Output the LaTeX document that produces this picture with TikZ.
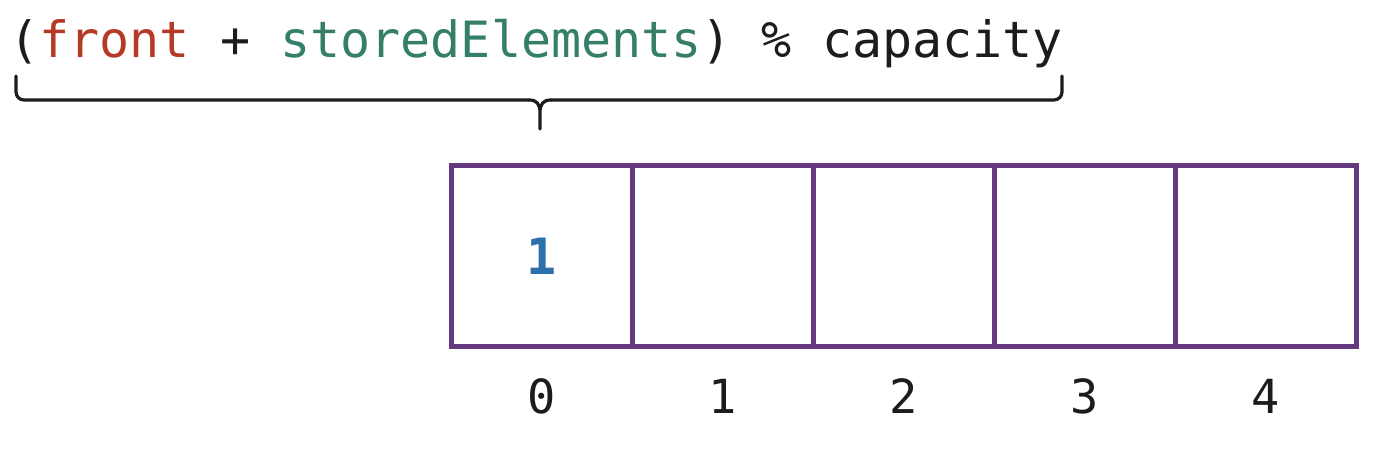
\documentclass[tikz,border=0pt]{standalone}
\usepackage{fontspec}
\setmonofont{DejaVu Sans Mono}
\usetikzlibrary{positioning}
\definecolor{frontred}{RGB}{180,58,38}
\definecolor{storedteal}{RGB}{52,126,106}
\definecolor{valblue}{RGB}{46,112,172}
\definecolor{cellpurple}{RGB}{101,56,127}
\definecolor{inkblack}{RGB}{28,28,28}
\tikzset{
cell/.style={shape=rectangle, minimum size=90.5pt, inner sep=0, outer sep=0, draw=cellpurple, line width=2.7pt, font=\ttfamily\bfseries\fontsize{25}{26}\selectfont, text=valblue}, idx/.style={inner sep=0, font=\ttfamily\fontsize{23.5}{24}\selectfont, text=inkblack}, expr/.style={inner sep=0, font=\ttfamily\fontsize{25}{26}\selectfont, text=inkblack}}

\begin{document}
\begin{tikzpicture}[x=0.5pt, y=0.5pt]
\useasboundingbox (0,0) rectangle (1394,-450);
\node [expr, anchor=base west] at (9,-57) (formula) {(\textcolor{frontred}{front} + \textcolor{storedteal}{storedElements}) \% capacity};
% brace under the formula
\draw [inkblack, line width=1.6pt, line cap=round, line join=round, rounded corners=4pt] (16,-76) -- (16,-100) -- (529,-100);
\draw [inkblack, line width=1.6pt, line cap=round, line join=round] (529,-100) .. controls (537,-100) and (540,-104) .. (540,-113) -- (540,-129) -- (540,-113) .. controls (540,-104) and (543,-100) .. (551,-100);
\draw [inkblack, line width=1.6pt, line cap=round, line join=round, rounded corners=4pt] (551,-100) -- (1062,-100) -- (1062,-76);

\node [cell] at (542,-256) (cell-0) {1};
\node [idx, below=16pt of cell-0] (idx-0) {0};
\foreach \j [evaluate={\jj=int(\j-1);}] in {1,...,4}{
      \node [cell, right=0pt of cell-\jj] (cell-\j) {};
      \node [idx, below=16pt of cell-\j] (idx-\j) {\j};
}
\end{tikzpicture}
\end{document}
